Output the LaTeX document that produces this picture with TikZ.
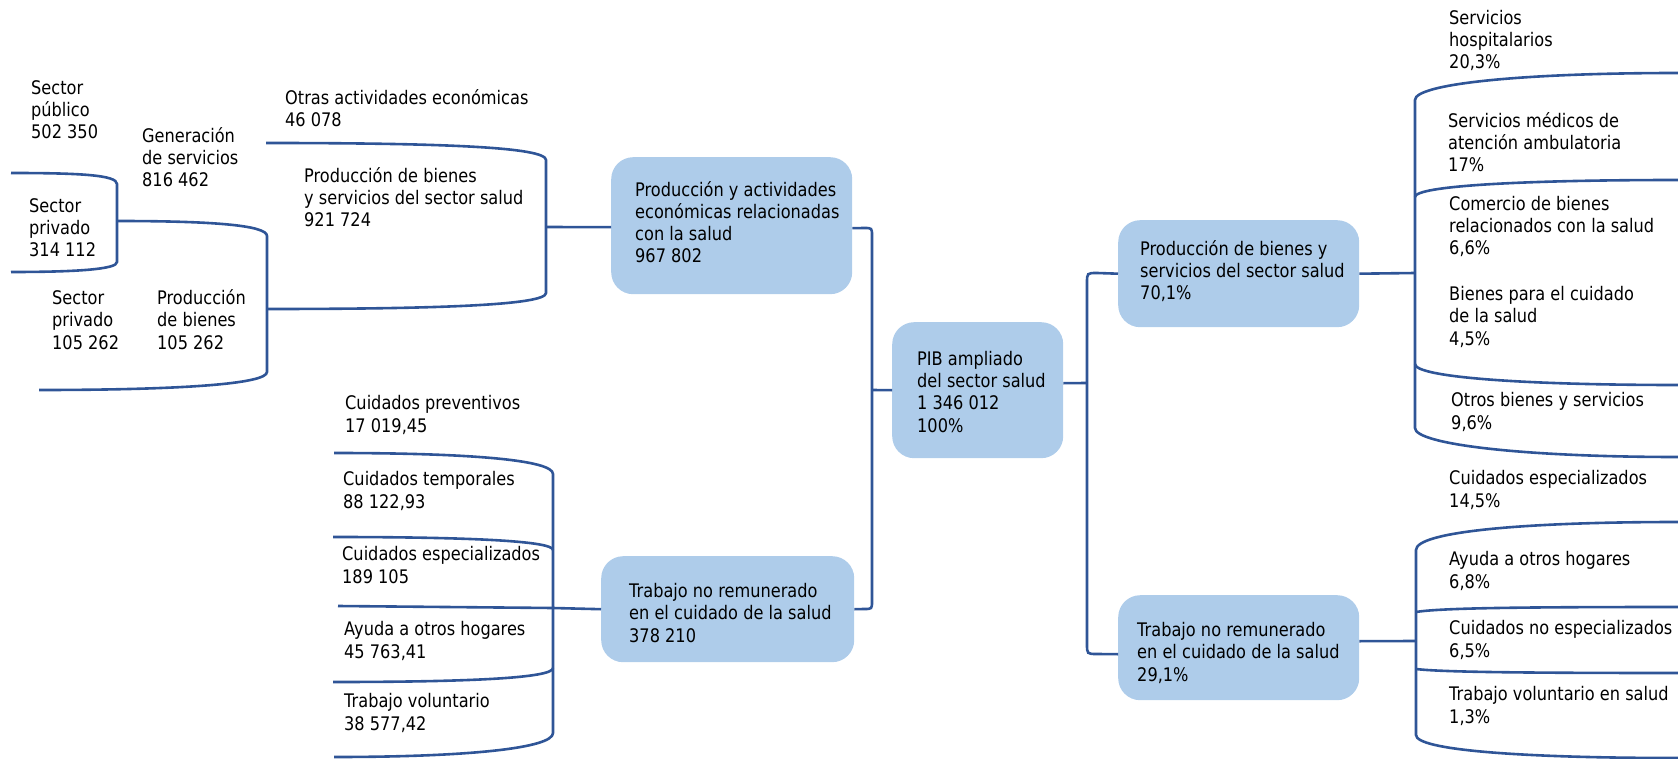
\documentclass[tikz,border=0pt]{standalone}
\usepackage{fontspec}
\setmainfont{DejaVu Sans}[FakeStretch=0.865]
\definecolor{lncol}{RGB}{47,85,151}
\definecolor{boxcol}{RGB}{174,204,234}
\newcommand{\diafs}{\fontsize{18.7pt}{22.3pt}\selectfont}
\begin{document}
\begin{tikzpicture}[x=1pt,y=-1pt,
  txt/.style={anchor=base west,inner sep=0pt,align=left,font=\diafs},
  boxnode/.style={rounded corners=22pt,fill=boxcol,draw=none,anchor=north west,inner sep=0pt},
  conn/.style={draw=lncol,line width=2.6pt}]
\useasboundingbox (0,0) rectangle (1678,759);

% ---------- boxes ----------
\node[boxnode,minimum width=241pt,minimum height=137pt] (b1) at (611,157) {};
\node[boxnode,minimum width=253pt,minimum height=106pt] (b4) at (601,556) {};
\node[boxnode,minimum width=171pt,minimum height=136pt] (pib) at (892,322) {};
\node[boxnode,minimum width=241pt,minimum height=107pt] (b2) at (1118,220) {};
\node[boxnode,minimum width=241pt,minimum height=105pt] (b3) at (1118,595) {};

% (text nodes are placed by the baseline of their last line)
\node[txt] (b1t) at (635,263) {Producción y actividades\\económicas relacionadas\\con la salud\\967 802};
\node[txt] (b4t) at (629,642) {Trabajo no remunerado\\en el cuidado de la salud\\378 210};
\node[txt] (pibt) at (917,432) {PIB ampliado\\del sector salud\\1 346 012\\100\%};
\node[txt] (b2t) at (1140,300) {Producción de bienes y\\servicios del sector salud\\70,1\%};
\node[txt] (b3t) at (1137,681) {Trabajo no remunerado\\en el cuidado de la salud\\29,1\%};

% ---------- left texts ----------
\node[txt] (sp) at (31,139) {Sector\\público\\502 350};
\node[txt] (spr1) at (29,257) {Sector\\privado\\314 112};
\node[txt] (gs) at (142,187) {Generación\\de servicios\\816 462};
\node[txt] (spr2) at (52,349) {Sector\\privado\\105 262};
\node[txt] (pb) at (157,349) {Producción\\de bienes\\105 262};
\node[txt] (oa) at (285,127) {Otras actividades económicas\\46 078};
\node[txt] (pbs) at (304,227) {Producción de bienes\\y servicios del sector salud\\921 724};
\node[txt] (cp) at (345,432) {Cuidados preventivos\\17 019,45};
\node[txt] (ct) at (343,508) {Cuidados temporales\\88 122,93};
\node[txt] (ce) at (342,583) {Cuidados especializados\\189 105};
\node[txt] (ah) at (344,658) {Ayuda a otros hogares\\45 763,41};
\node[txt] (tv) at (344,730) {Trabajo voluntario\\38 577,42};

% ---------- right texts ----------
\node[txt] (sh) at (1449,69) {Servicios\\hospitalarios\\20,3\%};
\node[txt] (sm) at (1448,172) {Servicios médicos de\\atención ambulatoria\\17\%};
\node[txt] (cb) at (1449,255) {Comercio de bienes\\relacionados con la salud\\6,6\%};
\node[txt] (bc) at (1449,345) {Bienes para el cuidado\\de la salud\\4,5\%};
\node[txt] (ob) at (1451,429) {Otros bienes y servicios\\9,6\%};
\node[txt] (ces) at (1449,507) {Cuidados especializados\\14,5\%};
\node[txt] (ao) at (1449,588) {Ayuda a otros hogares\\6,8\%};
\node[txt] (cn) at (1449,657) {Cuidados no especializados\\6,5\%};
\node[txt] (tvs) at (1449,723) {Trabajo voluntario en salud\\1,3\%};

% ---------- coordinates ----------
\coordinate (jL) at (872,390);
\coordinate (jR) at (1087,383);
\coordinate (jA) at (546,227);
\coordinate (jB) at (553,608);
\coordinate (jC) at (1415,273);
\coordinate (jD) at (1416,641);

% ---------- central connectors ----------
\draw[conn] ([yshift=-2.5pt]b1.east) -- (864,228) .. controls (872,228) .. (872,236)
  -- (872,601) .. controls (872,609) .. (864,609) -- (b4.east);
\draw[conn] (jL) -- (pib.west);
\draw[conn] ([yshift=7pt]pib.east) -- (jR);
\draw[conn] (b2.west) -- (1097,273) .. controls (1087,273) .. (1087,283)
  -- (1087,644) .. controls (1087,654) .. (1097,654) -- ([yshift=-6.5pt]b3.west);

% ---------- upper left brackets ----------
\draw[conn] (11,173) .. controls (80,173) and (117,175) .. (117,184) -- (117,262)
  .. controls (117,269) and (80,272) .. (11,272);
\draw[conn] (117,221) .. controls (210,221) and (267,225) .. (267,236) -- (267,372)
  .. controls (267,384) and (180,390) .. (39,390);
\draw[conn] (266,143) .. controls (440,143) and (546,147) .. (546,160) -- (546,293)
  .. controls (546,305) and (440,309) .. (267,309);
\draw[conn] (jA) -- ([yshift=-1.5pt]b1.west);

% ---------- lower left bracket ----------
\draw[conn] (334,453) .. controls (470,453) and (553,460) .. (553,474) -- (553,733)
  .. controls (553,748) and (470,757) .. (334,757);
\draw[conn] (333,537) .. controls (470,537) and (553,541) .. (553,550);
\draw[conn] (338,606) -- (jB) -- (b4.west);
\draw[conn] (333,682) .. controls (470,682) and (553,678) .. (553,668);

% ---------- upper right bracket ----------
\draw[conn] (b2.east) -- (jC);
\draw[conn] (1678,73) .. controls (1520,73) and (1415,84) .. (1415,100) -- (1415,428)
  .. controls (1415,444) and (1520,457) .. (1678,457);
\draw[conn] (1415,197) .. controls (1415,186) and (1520,180) .. (1678,180);
\draw[conn] (1415,364) .. controls (1415,377) and (1520,385) .. (1678,385);

% ---------- lower right bracket ----------
\draw[conn] ([yshift=6.5pt]b3.east) -- (jD);
\draw[conn] (1678,522) .. controls (1520,522) and (1416,532) .. (1416,550) -- (1416,735)
  .. controls (1416,750) and (1520,758) .. (1678,758);
\draw[conn] (1416,612) .. controls (1440,608) and (1520,607) .. (1678,607);
\draw[conn] (1416,669) .. controls (1440,672) and (1520,673) .. (1678,673);
\end{tikzpicture}
\end{document}
